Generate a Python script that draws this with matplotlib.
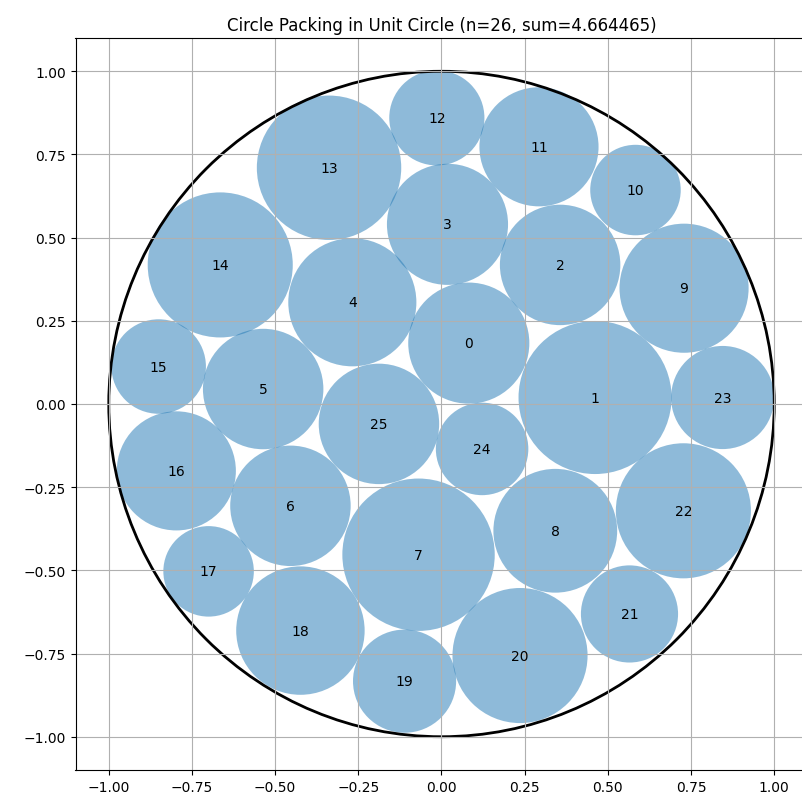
import matplotlib
matplotlib.use("Agg")
import matplotlib.pyplot as plt

# packed circle centres and radii
xs = [0.082, 0.4615, 0.3565, 0.018, -0.268, -0.536, -0.454, -0.069, 0.342, 0.729,
      0.583, 0.293, -0.014, -0.338, -0.665, -0.850, -0.797, -0.700, -0.424, -0.111,
      0.236, 0.565, 0.727, 0.845, 0.122, -0.188]
ys = [0.183, 0.0195, 0.418, 0.540, 0.3057, 0.045, -0.306, -0.453, -0.381, 0.348,
      0.643, 0.773, 0.860, 0.710, 0.418, 0.1126, -0.201, -0.503, -0.681, -0.833,
      -0.756, -0.631, -0.321, 0.0195, -0.135, -0.0598]
rs = [0.182, 0.230, 0.181, 0.182, 0.1925, 0.181, 0.181, 0.229, 0.186, 0.194,
      0.136, 0.179, 0.143, 0.217, 0.218, 0.142, 0.179, 0.136, 0.193, 0.155,
      0.203, 0.146, 0.203, 0.155, 0.139, 0.181]

fig = plt.figure(figsize=(8.02, 8.04), dpi=100)
ax = fig.add_axes([75/802, 33/804, 733/802, 732/804])

for i in range(len(xs)):
    c = plt.Circle((xs[i], ys[i]), rs[i], alpha=0.5)
    ax.add_patch(c)
    ax.text(xs[i], ys[i], str(i), ha='center', va='center')

ax.add_patch(plt.Circle((0, 0), 1, fill=False, color='black', linewidth=2))

ax.set_xlim(-1.1, 1.1)
ax.set_ylim(-1.1, 1.1)
ax.set_aspect('equal')
ax.grid(True)
ax.set_title("Circle Packing in Unit Circle (n=26, sum=4.664465)")
plt.savefig("out.png", dpi=100)
